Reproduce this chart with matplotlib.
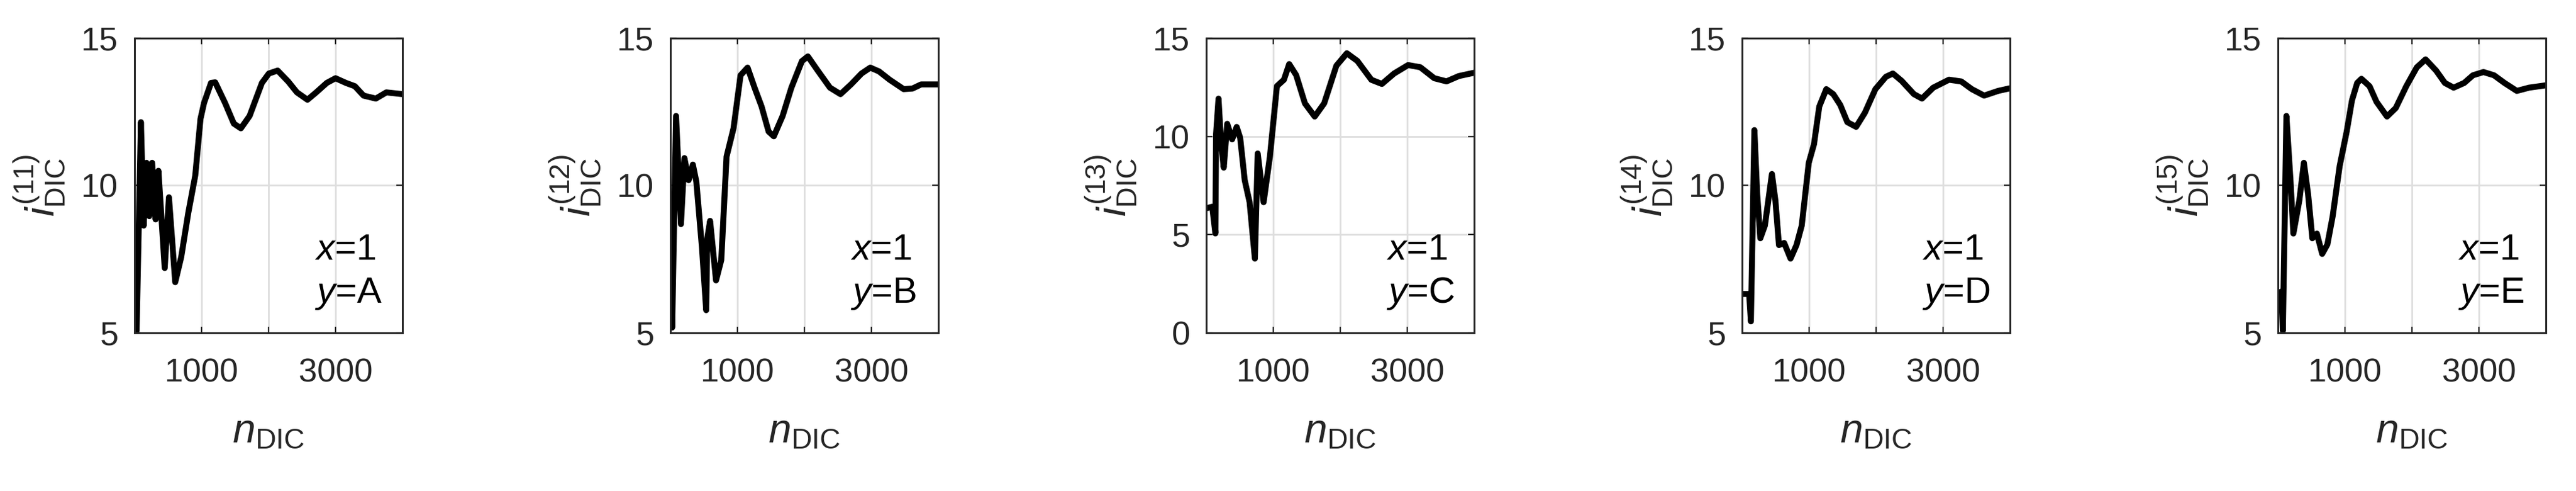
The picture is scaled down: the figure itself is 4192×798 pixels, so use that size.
import matplotlib
matplotlib.use('Agg')
import matplotlib.pyplot as plt

plt.rcParams['font.family'] = ['Liberation Sans', 'DejaVu Sans']
plt.rcParams['mathtext.fontset'] = 'custom'
plt.rcParams['mathtext.rm'] = 'Liberation Sans'
plt.rcParams['mathtext.it'] = 'Liberation Sans:italic'
plt.rcParams['mathtext.bf'] = 'Liberation Sans:bold'

# data, one series per panel
x_A = [0, 30, 95, 136, 178, 220, 262, 314, 356, 450, 513, 607, 696, 801, 906, 984, 1037, 1141, 1204, 1351,
       1482, 1587, 1717, 1901, 2005, 2136, 2293, 2424, 2581, 2712, 2869, 3000, 3157, 3288, 3419, 3602, 3759, 4000]
y_A = [6.43, 5.07, 12.15, 8.64, 10.77, 8.96, 10.77, 8.85, 10.5, 7.2, 9.6, 6.72, 7.57, 9.06, 10.34, 12.26, 12.8, 13.48, 13.5, 12.8,
       12.1, 11.94, 12.36, 13.48, 13.8, 13.9, 13.53, 13.16, 12.91, 13.16, 13.48, 13.64, 13.48, 13.37, 13.05, 12.95, 13.16, 13.1]

x_B = [0, 26, 84, 157, 209, 272, 335, 387, 471, 534, 550, 592, 681, 759, 838, 942, 1047, 1152, 1256, 1361,
       1466, 1544, 1675, 1806, 1963, 2052, 2199, 2382, 2539, 2696, 2853, 2984, 3115, 3272, 3482, 3613, 3743, 4000]
y_B = [6.4, 5.18, 12.36, 8.69, 10.93, 10.18, 10.71, 10.13, 7.89, 5.77, 8.2, 8.8, 6.78, 7.47, 10.98, 11.94, 13.74, 14.0, 13.32, 12.68,
       11.83, 11.67, 12.36, 13.32, 14.22, 14.38, 13.9, 13.32, 13.1, 13.43, 13.8, 14.0, 13.87, 13.59, 13.27, 13.29, 13.43, 13.43]

x_C = [0, 89, 136, 146, 183, 219, 261, 313, 386, 454, 506, 574, 647, 726, 768, 856, 950, 1055, 1159, 1238,
       1342, 1473, 1619, 1760, 1943, 2099, 2256, 2465, 2622, 2804, 3013, 3195, 3404, 3587, 3770, 4000]
y_C = [6.34, 6.42, 5.06, 10.1, 11.92, 9.77, 8.41, 10.64, 9.85, 10.48, 9.93, 7.77, 6.65, 3.78, 9.13, 6.65, 8.97, 12.56, 12.88, 13.68,
       13.12, 11.68, 11.01, 11.68, 13.6, 14.23, 13.84, 12.88, 12.67, 13.2, 13.63, 13.52, 12.96, 12.8, 13.07, 13.24]

x_D = [0, 105, 131, 183, 225, 272, 340, 445, 497, 550, 628, 723, 812, 890, 995, 1073, 1152, 1257, 1361, 1466,
       1571, 1702, 1833, 1990, 2147, 2251, 2382, 2565, 2686, 2853, 3089, 3272, 3429, 3613, 3822, 4000]
y_D = [6.32, 6.32, 5.39, 11.88, 9.7, 8.21, 8.64, 10.39, 9.49, 7.98, 8.05, 7.52, 7.98, 8.64, 10.77, 11.4, 12.68, 13.27, 13.1, 12.73,
       12.15, 11.99, 12.47, 13.27, 13.69, 13.8, 13.55, 13.1, 12.95, 13.32, 13.59, 13.53, 13.27, 13.05, 13.21, 13.3]

x_E = [0, 52, 73, 126, 188, 230, 319, 387, 450, 513, 581, 660, 738, 817, 921, 1026, 1105, 1183, 1246, 1367,
       1471, 1628, 1759, 1916, 2073, 2204, 2361, 2492, 2623, 2780, 2911, 3068, 3225, 3382, 3566, 3749, 4000]
y_E = [6.35, 6.4, 5.07, 12.36, 10.13, 8.37, 9.49, 10.77, 9.7, 8.21, 8.37, 7.68, 8.0, 8.96, 10.66, 11.83, 12.89, 13.48, 13.62, 13.37,
       12.84, 12.34, 12.63, 13.37, 14.01, 14.28, 13.9, 13.48, 13.32, 13.48, 13.74, 13.85, 13.74, 13.48, 13.21, 13.32, 13.4]

series_x = [x_A, x_B, x_C, x_D, x_E]
series_y = [y_A, y_B, y_C, y_D, y_E]
indices = ['11', '12', '13', '14', '15']
y_names = ['A', 'B', 'C', 'D', 'E']
y_lims = [(5, 15), (5, 15), (0, 15), (5, 15), (5, 15)]
y_ticks = [[5, 10, 15], [5, 10, 15], [0, 5, 10, 15], [5, 10, 15], [5, 10, 15]]
x_ticks = [1000, 2000, 3000]
x_ticklabels = ['1000', '', '3000']

W, H = 4192, 798
fig = plt.figure(figsize=(W / 100, H / 100), dpi=100)
ink = '#262626'

for k in range(5):
    left = (219 + 872 * k) / W
    ax = fig.add_axes([left, (H - 541) / H, 436 / W, 479 / H])
    ax.plot(series_x[k], series_y[k], color='black', lw=7, solid_joinstyle='round')
    ax.set_xlim(0, 4000)
    ax.set_ylim(*y_lims[k])
    ax.set_xticks(x_ticks)
    ax.set_xticklabels(x_ticklabels)
    ax.set_yticks(y_ticks[k])
    ax.grid(True, color='#dedede', lw=2)
    ax.set_axisbelow(True)
    for s in ax.spines.values():
        s.set_linewidth(2.2)
        s.set_color(ink)
    ax.tick_params(axis='both', direction='in', top=True, right=True,
                   length=7, width=1.6, color=ink, labelcolor=ink, labelsize=39)
    ax.tick_params(axis='x', pad=29)
    ax.tick_params(axis='y', pad=19)

    ax.set_xlabel(r'$n_{\mathrm{DIC}}$', fontsize=48, color=ink)
    ax.xaxis.set_label_coords(0.5, -0.27)
    ax.set_ylabel(r'$i^{(' + indices[k] + r')}_{\mathrm{DIC}}$', fontsize=48, color=ink)
    ax.yaxis.set_label_coords(-0.255, 0.5)

    ax.text(0.672, 0.248, r'$x$=1', transform=ax.transAxes, fontsize=43,
            ha='left', va='baseline', color='black')
    ax.text(0.672, 0.102, r'$y$=' + y_names[k], transform=ax.transAxes, fontsize=43,
            ha='left', va='baseline', color='black')

fig.savefig('out.png', dpi=100)
